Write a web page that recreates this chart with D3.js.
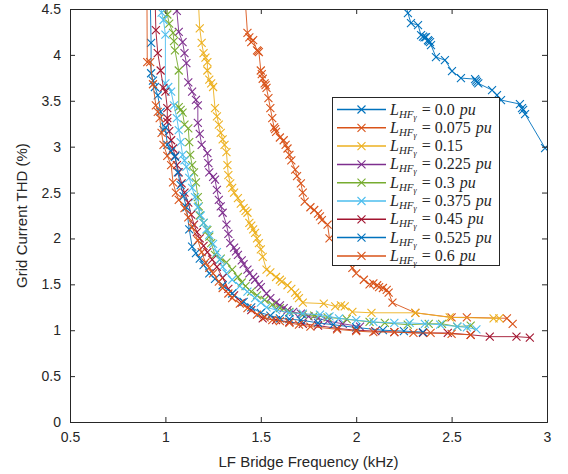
<!DOCTYPE html>
<html>
<head>
<meta charset="utf-8">
<script src="https://cdn.jsdelivr.net/npm/d3@7"></script>
<style>
  body { margin: 0; background: #fff; }
  svg text { font-family: "Liberation Sans", Arial, sans-serif; fill: #262626; }
</style>
</head>
<body>
<div id="chart"></div>
<script>
// inductance values for the legend
const labels = ['0.0', '0.075', '0.15', '0.225', '0.3', '0.375', '0.45', '0.525', '0.6'];
const units = ['pu', 'pu', '', 'pu', 'pu', 'pu', 'pu', 'pu', 'pu'];
const colors = ['#0072BD', '#D95319', '#EDB120', '#7E2F8E', '#77AC30', '#4DBEEE', '#A2142F', '#0072BD', '#D95319'];

// [frequency kHz, THD %]
const s0 = [[2.25,4.62],[2.271,4.455],[2.287,4.346],[2.324,4.325],[2.34,4.216],[2.35,4.2],[2.358,4.19],[2.366,4.194],[2.376,4.161],[2.38,4.15],[2.387,4.139],[2.392,4.107],[2.418,3.976],[2.465,3.943],[2.502,3.824],[2.549,3.747],[2.623,3.736],[2.628,3.72],[2.633,3.704],[2.64,3.69],[2.712,3.617],[2.738,3.562],[2.759,3.508],[2.858,3.464],[2.869,3.42],[2.875,3.40],[2.885,3.355],[2.99,2.985],[3.05,2.85]];
const s1 = [[1.415,4.7],[1.43,4.24],[1.44,4.19],[1.45,4.14],[1.46,4.16],[1.48,4.05],[1.485,4.04],[1.49,4.03],[1.5,3.83],[1.505,3.79],[1.51,3.74],[1.52,3.69],[1.525,3.67],[1.53,3.64],[1.54,3.53],[1.55,3.42],[1.56,3.31],[1.57,3.21],[1.575,3.19],[1.58,3.16],[1.6,3.1],[1.62,3.07],[1.63,3.02],[1.64,2.98],[1.65,2.91],[1.66,2.85],[1.68,2.75],[1.69,2.68],[1.71,2.6],[1.72,2.5],[1.73,2.4],[1.76,2.34],[1.78,2.31],[1.8,2.27],[1.81,2.24],[1.82,2.2],[1.85,2.15],[1.86,2.0],[1.9,1.92],[1.94,1.8],[1.98,1.68],[2.0,1.62],[2.04,1.55],[2.07,1.5],[2.09,1.51],[2.11,1.49],[2.12,1.47],[2.14,1.46],[2.16,1.44],[2.17,1.41],[2.19,1.3],[2.31,1.19],[2.5,1.14],[2.58,1.14],[2.79,1.13],[2.82,1.07]];
const s2 = [[1.17,4.7],[1.18,4.29],[1.19,4.13],[1.2,4.02],[1.21,3.97],[1.22,3.92],[1.22,3.83],[1.23,3.73],[1.24,3.69],[1.25,3.65],[1.26,3.42],[1.27,3.33],[1.28,3.24],[1.29,3.15],[1.3,3.08],[1.31,3.02],[1.32,2.94],[1.325,2.8],[1.33,2.69],[1.34,2.6],[1.35,2.55],[1.36,2.5],[1.38,2.44],[1.395,2.38],[1.41,2.33],[1.42,2.3],[1.43,2.28],[1.44,2.17],[1.45,2.14],[1.46,2.1],[1.47,2.06],[1.48,2.0],[1.49,1.95],[1.5,1.88],[1.51,1.8],[1.53,1.66],[1.55,1.63],[1.58,1.58],[1.6,1.55],[1.61,1.53],[1.64,1.49],[1.66,1.45],[1.68,1.41],[1.69,1.38],[1.7,1.35],[1.72,1.3],[1.83,1.29],[1.89,1.26],[1.92,1.27],[1.94,1.26],[1.98,1.2],[2.08,1.19],[2.31,1.19],[2.49,1.14],[2.72,1.13],[2.75,1.13]];
const s3 = [[1.06,4.7],[1.06,4.48],[1.07,4.25],[1.09,4.14],[1.1,4.02],[1.11,3.91],[1.12,3.7],[1.14,3.6],[1.16,3.51],[1.17,3.45],[1.17,3.26],[1.18,3.14],[1.19,3.02],[1.22,2.93],[1.225,2.82],[1.23,2.72],[1.25,2.67],[1.26,2.64],[1.27,2.53],[1.28,2.42],[1.29,2.35],[1.3,2.28],[1.32,2.15],[1.33,2.05],[1.34,1.95],[1.36,1.9],[1.37,1.86],[1.38,1.82],[1.4,1.76],[1.41,1.72],[1.43,1.66],[1.44,1.62],[1.46,1.58],[1.47,1.55],[1.49,1.5],[1.5,1.47],[1.53,1.4],[1.55,1.35],[1.58,1.3],[1.6,1.27],[1.62,1.24],[1.64,1.22],[1.67,1.2],[1.71,1.18],[1.75,1.15],[1.8,1.13],[1.85,1.1],[1.93,1.07],[2.02,1.04]];
const s4 = [[1.01,4.7],[1.01,4.44],[1.02,4.34],[1.04,4.24],[1.045,4.15],[1.05,4.05],[1.07,3.83],[1.07,3.43],[1.08,3.4],[1.09,3.37],[1.1,3.24],[1.12,3.2],[1.125,3.05],[1.13,2.91],[1.14,2.8],[1.15,2.72],[1.16,2.61],[1.17,2.45],[1.175,2.35],[1.18,2.25],[1.2,2.17],[1.22,2.09],[1.23,2.02],[1.24,1.95],[1.26,1.82],[1.29,1.78],[1.32,1.74],[1.35,1.66],[1.38,1.58],[1.4,1.52],[1.42,1.48],[1.45,1.42],[1.48,1.38],[1.52,1.33],[1.56,1.28],[1.6,1.24],[1.65,1.2],[1.72,1.17],[1.78,1.16],[1.85,1.14],[1.95,1.12],[2.07,1.09],[2.15,1.08],[2.27,1.06],[2.38,1.07],[2.45,1.07],[2.53,1.04],[2.6,1.05]];
const s5 = [[0.97,4.7],[0.98,4.46],[0.99,4.38],[1.0,4.22],[1.0,3.69],[1.015,3.65],[1.03,3.6],[1.045,3.45],[1.06,3.31],[1.07,3.18],[1.08,3.05],[1.09,2.91],[1.1,2.85],[1.11,2.78],[1.125,2.66],[1.14,2.55],[1.155,2.45],[1.17,2.34],[1.185,2.25],[1.2,2.17],[1.215,2.1],[1.23,2.04],[1.25,1.94],[1.27,1.85],[1.285,1.77],[1.3,1.69],[1.32,1.62],[1.35,1.55],[1.39,1.48],[1.43,1.42],[1.47,1.35],[1.5,1.3],[1.53,1.25],[1.58,1.22],[1.65,1.19],[1.72,1.18],[1.81,1.17],[1.86,1.15],[1.91,1.13],[2.0,1.11],[2.09,1.09],[2.2,1.08],[2.28,1.08],[2.36,1.07],[2.44,1.06],[2.53,1.04],[2.58,1.03],[2.63,1.01]];
const s6 = [[0.945,4.7],[0.95,4.27],[0.96,4.02],[0.975,3.83],[0.99,3.64],[1.0,3.6],[1.01,3.42],[1.01,3.31],[1.01,3.27],[1.02,3.17],[1.03,3.07],[1.04,2.98],[1.05,2.9],[1.06,2.8],[1.07,2.72],[1.085,2.6],[1.1,2.5],[1.12,2.39],[1.135,2.26],[1.15,2.15],[1.165,2.07],[1.18,2.0],[1.2,1.92],[1.22,1.85],[1.245,1.77],[1.27,1.69],[1.3,1.57],[1.33,1.45],[1.36,1.38],[1.4,1.3],[1.45,1.22],[1.51,1.13],[1.58,1.11],[1.65,1.09],[1.72,1.07],[1.8,1.05],[1.9,1.02],[2.0,1.0],[2.1,0.99],[2.2,0.98],[2.35,0.97],[2.48,0.97],[2.6,0.95],[2.7,0.93],[2.84,0.93],[2.91,0.92]];
const s7 = [[0.92,4.7],[0.925,4.13],[0.925,3.8],[0.935,3.72],[0.945,3.65],[0.96,3.56],[0.975,3.38],[0.99,3.18],[1.0,3.21],[1.01,3.02],[1.03,2.95],[1.05,2.89],[1.065,2.72],[1.08,2.58],[1.095,2.46],[1.11,2.34],[1.125,2.1],[1.14,1.91],[1.16,1.84],[1.18,1.78],[1.2,1.71],[1.23,1.62],[1.26,1.56],[1.3,1.49],[1.35,1.4],[1.41,1.31],[1.45,1.25],[1.5,1.19],[1.55,1.16],[1.6,1.13],[1.65,1.12],[1.71,1.11],[1.8,1.08],[1.88,1.06],[2.0,1.03],[2.14,1.0],[2.25,0.99],[2.35,0.98]];
const s8 = [[0.903,4.7],[0.905,3.92],[0.92,3.92],[0.935,3.68],[0.95,3.45],[0.96,3.38],[0.97,3.31],[0.98,3.15],[0.99,3.02],[1.01,2.9],[1.03,2.8],[1.04,2.61],[1.055,2.5],[1.07,2.42],[1.1,2.33],[1.12,2.23],[1.14,2.12],[1.17,1.98],[1.19,1.85],[1.21,1.74],[1.23,1.68],[1.25,1.62],[1.28,1.53],[1.3,1.46],[1.33,1.4],[1.35,1.35],[1.39,1.29],[1.43,1.24],[1.48,1.17],[1.52,1.14],[1.56,1.11],[1.6,1.1],[1.65,1.08],[1.7,1.06],[1.76,1.04],[1.9,1.01],[2.0,0.99],[2.09,0.98],[2.2,0.98],[2.3,0.97],[2.39,0.97],[2.5,0.96],[2.6,0.95]];
const series = [s0, s1, s2, s3, s4, s5, s6, s7, s8];

const xTicks = [0.5, 1, 1.5, 2, 2.5, 3];
const yTicks = [0, 0.5, 1, 1.5, 2, 2.5, 3, 3.5, 4, 4.5];

const width = 568;
const height = 474;
const margin = { top: 9, right: 21, bottom: 52, left: 70 };
const usable = {
    left: margin.left,
    right: width - margin.right,
    top: margin.top,
    bottom: height - margin.bottom,
};

const svg = d3.select('#chart').append('svg')
    .attr('width', width)
    .attr('height', height);

const xScale = d3.scaleLinear().domain([0.5, 3]).range([usable.left, usable.right]);
const yScale = d3.scaleLinear().domain([0, 4.5]).range([usable.bottom, usable.top]);

svg.append('clipPath').attr('id', 'clip')
    .append('rect')
    .attr('x', usable.left).attr('y', usable.top)
    .attr('width', usable.right - usable.left)
    .attr('height', usable.bottom - usable.top);

const cross = 'M-4,-4L4,4M-4,4L4,-4';

const line = d3.line().x(d => xScale(d[0])).y(d => yScale(d[1]));
const plot = svg.append('g').attr('clip-path', 'url(#clip)');

series.forEach((s, i) => {
    const g = plot.append('g');
    g.append('path')
        .attr('d', line(s))
        .attr('fill', 'none')
        .attr('stroke', colors[i])
        .attr('stroke-width', 0.9);
    g.selectAll('path.m')
        .data(s)
        .join('path')
        .attr('class', 'm')
        .attr('d', cross)
        .attr('transform', d => `translate(${xScale(d[0])},${yScale(d[1])})`)
        .attr('stroke', colors[i])
        .attr('stroke-width', 1.1)
        .attr('fill', 'none');
});

// axes (box with inward ticks)
const axisColor = '#262626';
const xAxis = svg.append('g')
    .attr('transform', `translate(0,${usable.bottom})`)
    .call(d3.axisBottom(xScale).tickValues(xTicks).tickSize(-5).tickPadding(10).tickFormat(d3.format('')));
const xTop = svg.append('g')
    .attr('transform', `translate(0,${usable.top})`)
    .call(d3.axisTop(xScale).tickValues(xTicks).tickSize(-5).tickFormat(''));
const yAxis = svg.append('g')
    .attr('transform', `translate(${usable.left},0)`)
    .call(d3.axisLeft(yScale).tickValues(yTicks).tickSize(-5).tickPadding(9).tickFormat(d3.format('')));
const yRight = svg.append('g')
    .attr('transform', `translate(${usable.right},0)`)
    .call(d3.axisRight(yScale).tickValues(yTicks).tickSize(-5).tickFormat(''));

[xAxis, xTop, yAxis, yRight].forEach(a => {
    a.selectAll('path').attr('stroke', axisColor).attr('stroke-width', 1);
    a.selectAll('line').attr('stroke', axisColor);
    a.selectAll('text').attr('fill', axisColor).style('font-size', '14px')
        .style('font-family', '"Liberation Sans", Arial, sans-serif');
});

svg.append('text')
    .attr('x', (usable.left + usable.right) / 2)
    .attr('y', 467)
    .attr('text-anchor', 'middle')
    .style('font-size', '15px')
    .text('LF Bridge Frequency (kHz)');

svg.append('text')
    .attr('transform', `translate(27,${(usable.top + usable.bottom) / 2}) rotate(-90)`)
    .attr('text-anchor', 'middle')
    .style('font-size', '15px')
    .text('Grid Current THD (%)');

// legend
const legend = svg.append('g');
legend.append('rect')
    .attr('x', 332.5).attr('y', 97.5)
    .attr('width', 167).attr('height', 168)
    .attr('fill', '#fff')
    .attr('stroke', axisColor)
    .attr('stroke-width', 1);

labels.forEach((lab, i) => {
    const y = 109.5 + i * 18.3;
    legend.append('line')
        .attr('x1', 337).attr('x2', 386)
        .attr('y1', y).attr('y2', y)
        .attr('stroke', colors[i]).attr('stroke-width', 1.5);
    legend.append('path')
        .attr('d', cross)
        .attr('transform', `translate(361.5,${y})`)
        .attr('stroke', colors[i]).attr('stroke-width', 1.1).attr('fill', 'none');
    const t = legend.append('text')
        .attr('x', 390).attr('y', y + 5)
        .style('font-family', '"Liberation Serif", "DejaVu Serif", serif')
        .style('font-size', '16px')
        .attr('fill', '#000');
    t.append('tspan').attr('font-style', 'italic').text('L');
    t.append('tspan').attr('font-style', 'italic').attr('font-size', '11px').attr('dy', 3).text('HF');
    t.append('tspan').attr('font-style', 'italic').attr('font-size', '8px').attr('dy', 2).text('γ');
    t.append('tspan').attr('dy', -5).attr('dx', 5).text('= ' + lab);
    if (units[i]) t.append('tspan').attr('font-style', 'italic').attr('dx', 5).text(units[i]);
});
</script>
</body>
</html>
